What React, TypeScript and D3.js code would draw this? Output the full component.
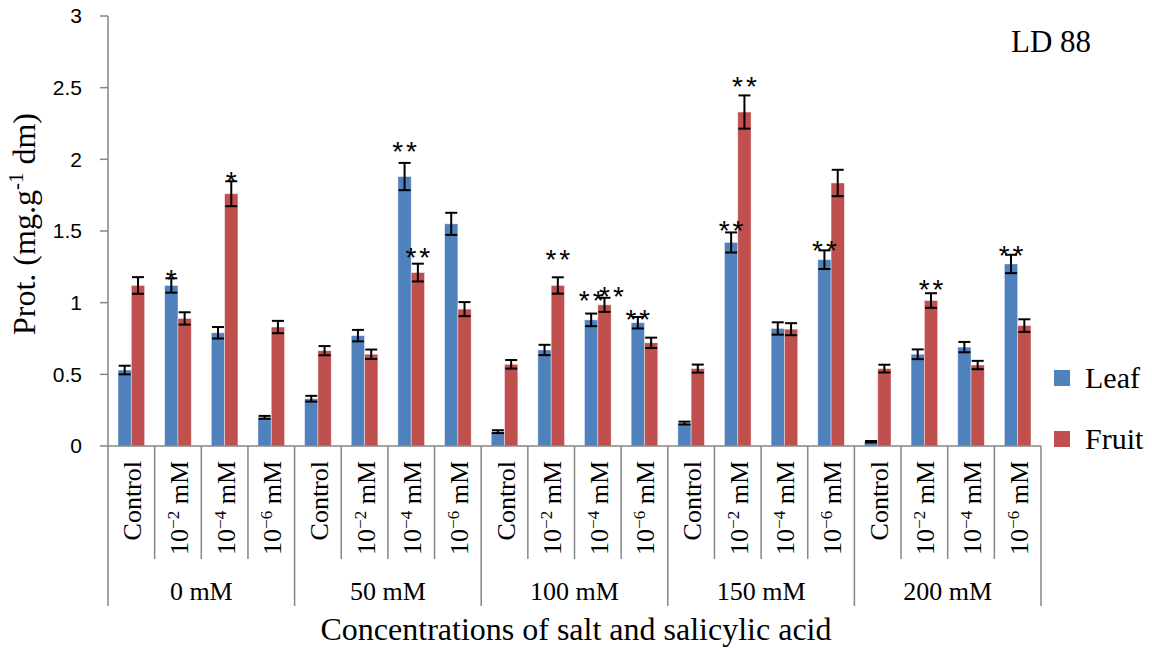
import React from "react";
import * as d3 from "d3";

const groups = ["0 mM", "50 mM", "100 mM", "150 mM", "200 mM"];
const treatmentBase = ["Control", "10", "10", "10"];
const treatmentExp = ["", "\u22122", "\u22124", "\u22126"];
const seriesNames = ["Leaf", "Fruit"];
const seriesColors = ["#4F81BD", "#C0504D"];

const leaf = [0.53, 1.12, 0.79, 0.2, 0.33, 0.77, 1.88, 1.55, 0.1, 0.67, 0.88, 0.86, 0.16, 1.42, 0.82, 1.3, 0.03, 0.64, 0.69, 1.27];
const leafErr = [0.03, 0.05, 0.04, 0.01, 0.02, 0.04, 0.095, 0.077, 0.01, 0.036, 0.044, 0.04, 0.01, 0.07, 0.043, 0.065, 0.005, 0.034, 0.036, 0.064];
const fruit = [1.12, 0.89, 1.76, 0.83, 0.665, 0.64, 1.21, 0.955, 0.57, 1.12, 0.985, 0.72, 0.54, 2.33, 0.815, 1.835, 0.54, 1.015, 0.565, 0.84];
const fruitErr = [0.058, 0.043, 0.087, 0.043, 0.032, 0.033, 0.062, 0.049, 0.03, 0.057, 0.049, 0.036, 0.028, 0.116, 0.042, 0.092, 0.027, 0.051, 0.029, 0.044];

// significance marks: category index, series (0 leaf, 1 fruit), label, level (data units)
const sigIndex = [1, 2, 6, 6, 9, 10, 10, 11, 13, 13, 15, 17, 19];
const sigSeries = [0, 1, 0, 1, 1, 0, 1, 0, 0, 1, 0, 1, 0];
const sigLabel = ["*", "*", "**", "**", "**", "**", "**", "**", "**", "**", "**", "**", "**"];
const sigLevel = [1.207, 1.891, 2.1, 1.361, 1.347, 1.061, 1.089, 0.928, 1.549, 2.554, 1.41, 1.14, 1.373];

const yTicks = [0, 0.5, 1, 1.5, 2, 2.5, 3];

const SERIF = "'Liberation Serif', 'Times New Roman', serif";
const SANS = "'Liberation Sans', Arial, sans-serif";
const AXIS = "#868686";

export default function App() {
  const W = 1152, H = 648;
  const left = 108, right = 1041, top = 16, bottom = 446;
  const nCat = groups.length * treatmentBase.length;
  const cats = d3.range(nCat);
  const x = d3.scaleBand<number>().domain(cats).range([left, right]).padding(0);
  const bw = x.bandwidth();
  const inner = d3.scaleBand<number>().domain([0, 1]).range([0, bw]).paddingInner(0).paddingOuter(0.754);
  const y = d3.scaleLinear().domain([0, 3]).range([bottom, top]);
  const values = [leaf, fruit];
  const errs = [leafErr, fruitErr];
  const nT = treatmentBase.length;
  const starSize = 28;

  return (
    <svg width={W} height={H} style={{ position: "absolute", left: 0, top: 0, background: "#fff" }}>
      <rect width={W} height={H} fill="#fff" />
      {/* bars */}
      {values.map((vals, s) =>
        vals.map((v, i) => (
          <rect
            key={`b${s}-${i}`}
            x={(x(i) as number) + (inner(s) as number)}
            y={y(v)}
            width={inner.bandwidth()}
            height={y(0) - y(v)}
            fill={seriesColors[s]}
            stroke="#ffffff"
            strokeOpacity={0.5}
            strokeWidth={0.8}
          />
        ))
      )}
      {/* error bars */}
      {values.map((vals, s) =>
        vals.map((v, i) => {
          const cx = (x(i) as number) + (inner(s) as number) + inner.bandwidth() / 2;
          const e = errs[s][i];
          const y1 = y(v + e), y2 = y(v - e);
          return (
            <g key={`e${s}-${i}`} stroke="#000" strokeWidth={2}>
              <line x1={cx} x2={cx} y1={y1} y2={y2} />
              <line x1={cx - 6} x2={cx + 6} y1={y1} y2={y1} />
              <line x1={cx - 6} x2={cx + 6} y1={y2} y2={y2} />
            </g>
          );
        })
      )}
      {/* significance */}
      {sigIndex.map((ci, k) => {
        const s = sigSeries[k];
        const cx = (x(ci) as number) + (inner(s) as number) + inner.bandwidth() / 2;
        const multi = sigLabel[k].length > 1;
        // nudge the fruit mark right when both marks of a category sit at nearly the same level
        const partner = sigIndex.findIndex((c, j) => j !== k && c === ci);
        const crowded = s === 1 && partner >= 0 && Math.abs(sigLevel[partner] - sigLevel[k]) < 0.1;
        return (
          <text
            key={`s${k}`}
            x={cx + (multi ? 1.5 : 0) + (crowded ? 7 : 0)}
            y={y(sigLevel[k]) + starSize * 0.575}
            textAnchor="middle"
            fontFamily={SANS}
            fontSize={starSize}
            letterSpacing={multi ? 3 : 0}
            fill="#000"
          >
            {sigLabel[k]}
          </text>
        );
      })}
      {/* y axis */}
      <line x1={left} x2={left} y1={top} y2={bottom} stroke={AXIS} strokeWidth={1.5} />
      {yTicks.map((t) => (
        <g key={`yt${t}`}>
          <line x1={left - 8} x2={left} y1={y(t)} y2={y(t)} stroke={AXIS} strokeWidth={1.5} />
          <text x={82} y={y(t)} dy="0.35em" textAnchor="end" fontFamily={SANS} fontSize={21} fill="#000">
            {String(t)}
          </text>
        </g>
      ))}
      {/* x axis */}
      <line x1={left} x2={right} y1={bottom} y2={bottom} stroke={AXIS} strokeWidth={1.5} />
      {d3.range(nCat + 1).map((i) => {
        const xx = i < nCat ? (x(i) as number) : right;
        const isGroup = i % nT === 0;
        return (
          <line
            key={`xt${i}`}
            x1={xx}
            x2={xx}
            y1={bottom}
            y2={isGroup ? 606 : 559}
            stroke={AXIS}
            strokeWidth={1.5}
          />
        );
      })}
      {cats.map((i) => {
        const t = i % nT;
        const cx = (x(i) as number) + bw / 2 + 10;
        return (
          <text
            key={`cl${i}`}
            transform={`translate(${cx},461) rotate(-90)`}
            textAnchor="end"
            fontFamily={SERIF}
            fontSize={26}
            fill="#000"
          >
            {treatmentExp[t] === "" ? (
              treatmentBase[t]
            ) : (
              <>
                <tspan>{treatmentBase[t]}</tspan>
                <tspan dy={-9} fontSize={17}>{treatmentExp[t]}</tspan>
                <tspan dy={9}>{" mM"}</tspan>
              </>
            )}
          </text>
        );
      })}
      {groups.map((g, gi) => {
        const x0 = x(gi * nT) as number;
        const x1 = gi * nT + nT < nCat ? (x(gi * nT + nT) as number) : right;
        return (
          <text key={`g${gi}`} x={(x0 + x1) / 2} y={600} textAnchor="middle" fontFamily={SERIF} fontSize={26} fill="#000">
            {g}
          </text>
        );
      })}
      {/* axis titles */}
      <text x={576} y={640} textAnchor="middle" fontFamily={SERIF} fontSize={32} fill="#000">
        Concentrations of salt and salicylic acid
      </text>
      <text transform="translate(35,224) rotate(-90)" textAnchor="middle" fontFamily={SERIF} fontSize={32} fill="#000">
        <tspan>Prot. (mg.g</tspan>
        <tspan dy={-12} fontSize={21}>-1</tspan>
        <tspan dy={12}> dm)</tspan>
      </text>
      {/* title */}
      <text x={1011} y={52} fontFamily={SERIF} fontSize={31} fill="#000">LD 88</text>
      {/* legend */}
      {seriesNames.map((n, i) => (
        <g key={`lg${i}`} transform={`translate(1054,${370 + i * 61})`}>
          <rect width={16} height={16} fill={seriesColors[i]} />
          <text x={31} y={18} fontFamily={SERIF} fontSize={30} fill="#000">{n}</text>
        </g>
      ))}
    </svg>
  );
}
